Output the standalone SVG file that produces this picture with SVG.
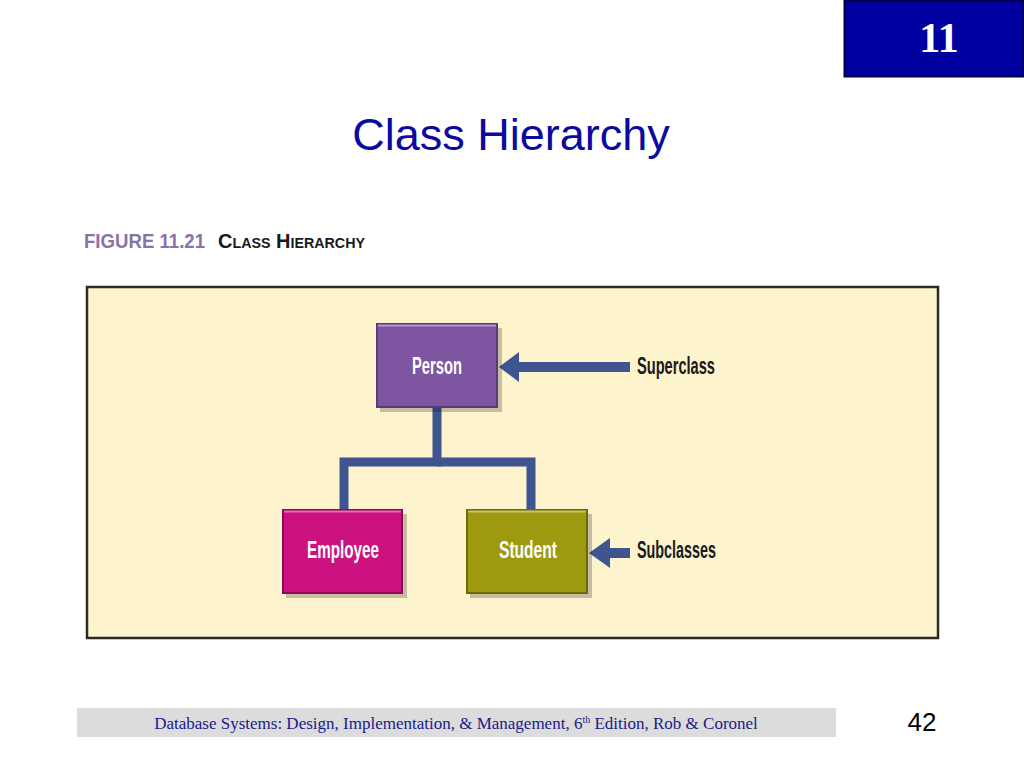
<svg xmlns="http://www.w3.org/2000/svg" width="1024" height="768" viewBox="0 0 1024 768">
<defs>
<style>
.box{stroke-width:2}
.shadow{fill:#000;opacity:0.22}
.lbl{font-family:"Liberation Sans",Arial,sans-serif;font-weight:bold;font-size:24px;fill:#fff;text-anchor:middle}
.side{font-family:"Liberation Sans",Arial,sans-serif;font-weight:bold;font-size:24px;fill:#1a1a1a}
.conn{fill:none;stroke:#3f5590;stroke-width:9}
.arrow{fill:#3f5590}
</style>
</defs>
<rect width="1024" height="768" fill="#ffffff"/>
<g id="chapter-badge">
<rect x="844.5" y="0.5" width="179" height="76" fill="#0000a0" stroke="#000040" stroke-width="2"/>
<text x="939" y="52" font-family="Liberation Serif,serif" font-weight="bold" font-size="42" fill="#ffffff" text-anchor="middle">11</text>
</g>
<text x="511" y="150" font-family="Liberation Sans,Arial,sans-serif" font-size="45" fill="#0a0aa0" text-anchor="middle">Class Hierarchy</text>
<g id="figure-caption">
<text x="84" y="248" font-family="Liberation Sans,Arial,sans-serif" font-weight="bold" font-size="21" fill="#8a72a6" textLength="121" lengthAdjust="spacingAndGlyphs">FIGURE 11.21</text>
<text x="218" y="248" font-family="Liberation Sans,Arial,sans-serif" font-weight="bold" font-size="21" font-variant="small-caps" style="font-variant:small-caps" fill="#1a1a1a" textLength="147" lengthAdjust="spacingAndGlyphs">Class Hierarchy</text>
</g>
<g id="panel">
<rect x="87" y="287" width="851" height="351" fill="#fdf3cc" stroke="#2a2a2a" stroke-width="2.5"/>
</g>
<g id="connectors">
<polyline class="conn" points="437,407 437,462 344,462 344,510"/>
<polyline class="conn" points="437,462 531,462 531,510"/>
<rect class="arrow" x="517" y="362" width="113" height="10"/>
<polygon class="arrow" points="499,367 519,352 519,382"/>
<rect class="arrow" x="608" y="548" width="22" height="10"/>
<polygon class="arrow" points="589,553 610,538 610,568"/>
</g>
<g id="node-person">
<rect class="shadow" x="380" y="328" width="122" height="84"/>
<rect class="box" x="377" y="324" width="120" height="83" fill="#7e55a0" stroke="#5a3a78"/>
<line x1="378" y1="325.5" x2="496" y2="325.5" stroke="#b49ad0" stroke-width="2"/>
<text class="lbl" x="437" y="374" textLength="50" lengthAdjust="spacingAndGlyphs">Person</text>
</g>
<g id="node-employee">
<rect class="shadow" x="286" y="514" width="121" height="84"/>
<rect class="box" x="283" y="510" width="119" height="83" fill="#cc1280" stroke="#8e0a58"/>
<line x1="284" y1="511.5" x2="401" y2="511.5" stroke="#e070b0" stroke-width="2"/>
<text class="lbl" x="343" y="558" textLength="72" lengthAdjust="spacingAndGlyphs">Employee</text>
</g>
<g id="node-student">
<rect class="shadow" x="470" y="514" width="122" height="84"/>
<rect class="box" x="467" y="510" width="120" height="83" fill="#9e9a10" stroke="#6c6a08"/>
<line x1="468" y1="511.5" x2="586" y2="511.5" stroke="#c8c460" stroke-width="2"/>
<text class="lbl" x="528" y="558" textLength="58" lengthAdjust="spacingAndGlyphs">Student</text>
</g>
<g id="label-superclass">
<text class="side" x="637" y="374" textLength="78" lengthAdjust="spacingAndGlyphs">Superclass</text>
</g>
<g id="label-subclasses">
<text class="side" x="637" y="558" textLength="79" lengthAdjust="spacingAndGlyphs">Subclasses</text>
</g>
<g id="footer">
<rect x="77" y="708" width="759" height="29" fill="#dcdcdc"/>
<text x="456" y="729" font-family="Liberation Serif,serif" font-size="17" fill="#1a1a8a" text-anchor="middle">Database Systems: Design, Implementation, &amp; Management, 6<tspan font-size="10" dy="-6">th</tspan><tspan dy="6"> Edition, Rob &amp; Coronel</tspan></text>
<text x="922" y="731" font-family="Liberation Sans,Arial,sans-serif" font-size="26" fill="#000" text-anchor="middle">42</text>
</g>
</svg>
